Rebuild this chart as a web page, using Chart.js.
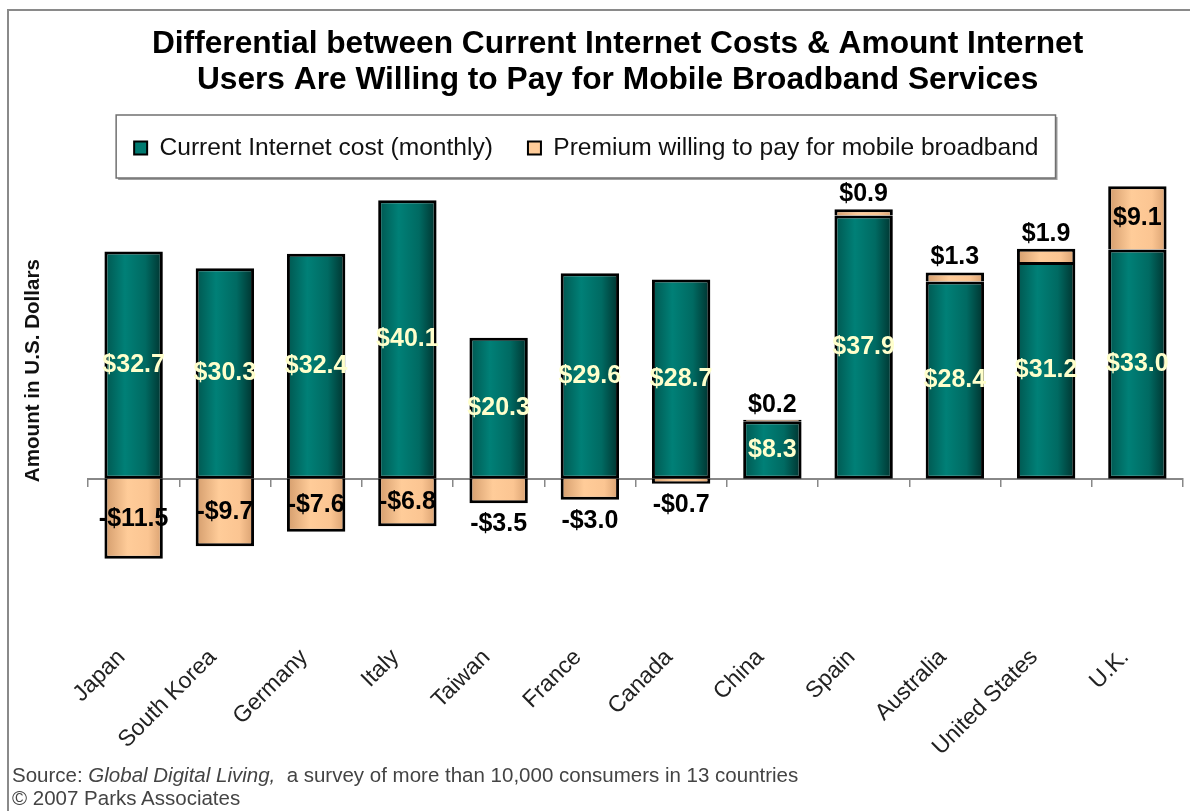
<!DOCTYPE html>
<html><head><meta charset="utf-8">
<script src="https://cdn.jsdelivr.net/npm/chart.js@4.4.1/dist/chart.umd.min.js"></script>
<style>
html,body{margin:0;padding:0;background:#fff;}
body{width:1190px;height:811px;position:relative;overflow:hidden;font-family:"Liberation Sans",Arial,sans-serif;}
#frame{position:absolute;left:7px;top:9px;width:1300px;height:900px;border-top:2px solid #8a8a8a;border-left:2px solid #8a8a8a;}
#c{position:absolute;left:0;top:0;}
#src{position:absolute;left:12px;top:763px;font-size:20.5px;line-height:23px;color:#444;white-space:pre;}
</style></head><body>
<div id="frame"></div>
<canvas id="c" width="1190" height="811"></canvas>
<div id="src">Source: <i>Global Digital Living,</i>  a survey of more than 10,000 consumers in 13 countries
© 2007 Parks Associates</div>
<script>
// ---- data ----
const categories = ['Japan','South Korea','Germany','Italy','Taiwan','France','Canada','China','Spain','Australia','United States','U.K.'];
const currentCost = [32.7,30.3,32.4,40.1,20.3,29.6,28.7,8.3,37.9,28.4,31.2,33.0];
const premium = [-11.5,-9.7,-7.6,-6.8,-3.5,-3.0,-0.7,0.2,0.9,1.3,1.9,9.1];
const seriesNames = ['Current Internet cost (monthly)','Premium willing to pay for mobile broadband'];
const titleLines = ['Differential between Current Internet Costs & Amount Internet','Users Are Willing to Pay for Mobile Broadband Services'];
const yAxisTitle = 'Amount in U.S. Dollars';
const yMin = -22.3, yMax = 44.4;

// ---- style ----
const FONT = '"Liberation Sans", Arial, sans-serif';
const BAR_PCT = 0.64;
const TEAL = '#007A70', TAN = '#FFCC99';
const TEAL_STOPS = [[0,'#00564F'],[0.35,'#008077'],[0.7,'#006A62'],[1,'#00312D']];
const TAN_STOPS = [[0,'#D39C6C'],[0.4,'#FFCC99'],[0.75,'#FBC592'],[1,'#D8A070']];
const LEGEND_FONT = 24.6;
const LEGEND_TRAIL = '    ';
Chart.defaults.font.family = FONT;

function barGradient(ctx, stops, fallback) {
  const chart = ctx.chart;
  if (ctx.type !== 'data' || !chart.chartArea || !chart.scales.x) return fallback;
  const xs = chart.scales.x;
  const cx = xs.getPixelForValue(ctx.dataIndex);
  const half = (xs.width / categories.length) * BAR_PCT / 2;
  const g = chart.ctx.createLinearGradient(cx - half, 0, cx + half, 0);
  stops.forEach(([o, c]) => g.addColorStop(o, c));
  return g;
}

const legendFrame = {
  id: 'legendFrame',
  beforeDraw(chart) {
    const lg = chart.legend;
    if (!lg || !lg.legendHitBoxes || !lg.legendHitBoxes.length) return;
    const hb = lg.legendHitBoxes;
    const c = chart.ctx;
    c.save();
    c.font = LEGEND_FONT + 'px ' + FONT;
    const trail = c.measureText(LEGEND_TRAIL).width;
    const first = hb[0], last = hb[hb.length - 1];
    const left = first.left - 18, right = last.left + last.width - trail + 17;
    const midY = first.top + first.height / 2;
    const top = midY - 33, bottom = midY + 30;
    c.fillStyle = '#a0a0a0';
    c.fillRect(left + 2, top + 2, right - left, bottom - top);
    c.fillStyle = '#fff';
    c.fillRect(left, top, right - left, bottom - top);
    c.strokeStyle = '#707070';
    c.lineWidth = 1.5;
    c.strokeRect(left, top, right - left, bottom - top);
    c.restore();
  }
};

const valueLabels = {
  id: 'valueLabels',
  afterDatasetsDraw(chart) {
    const c = chart.ctx;
    c.save();
    c.font = 'bold 25px ' + FONT;
    c.textAlign = 'center';
    c.textBaseline = 'middle';
    chart.data.datasets.forEach((ds, di) => {
      const meta = chart.getDatasetMeta(di);
      meta.data.forEach((el, i) => {
        const v = ds.data[i];
        const p = el.getProps(['x', 'y', 'base'], true);
        const txt = (v < 0 ? '-' : '') + '$' + Math.abs(v).toFixed(1);
        let ty, color = '#000';
        if (di === 0) { ty = (p.y + p.base) / 2; color = '#FFFFCC'; }
        else if (Math.abs(v) >= 5) { ty = (p.y + p.base) / 2; }
        else if (v > 0) { ty = p.y - 15; }
        else { ty = p.y + 21; }
        c.fillStyle = color;
        c.fillText(txt, p.x, ty);
      });
    });
    c.restore();
  }
};

new Chart(document.getElementById('c'), {
  type: 'bar',
  data: {
    labels: categories,
    datasets: [
      {
        label: seriesNames[0], data: currentCost, xAxisID: 'x',
        backgroundColor: (ctx) => barGradient(ctx, TEAL_STOPS, TEAL),
        borderColor: '#000', borderWidth: 3, borderSkipped: false,
        barPercentage: BAR_PCT, categoryPercentage: 1
      },
      {
        label: seriesNames[1], data: premium, xAxisID: 'x',
        backgroundColor: (ctx) => barGradient(ctx, TAN_STOPS, TAN),
        borderColor: '#000', borderWidth: 3, borderSkipped: 'start',
        barPercentage: BAR_PCT, categoryPercentage: 1
      }
    ]
  },
  options: {
    responsive: false,
    animation: false,
    layout: { padding: { left: 17, right: 7, top: 16, bottom: 40 } },
    plugins: {
      tooltip: { enabled: false },
      title: {
        display: true,
        text: titleLines.map(t => '    ' + t),
        color: '#000',
        font: { size: 31.7, weight: 'bold', lineHeight: 36 / 31.7 },
        padding: { top: 10, bottom: 2.7 }
      },
      legend: {
        display: true,
        labels: {
          color: '#111',
          font: { size: LEGEND_FONT },
          boxWidth: 13, boxHeight: 13, padding: 35,
          generateLabels(chart) {
            const items = Chart.defaults.plugins.legend.labels.generateLabels(chart);
            items.forEach((it, i) => {
              it.lineWidth = 2;
              it.fillStyle = i === 0 ? TEAL : TAN;
              if (i === items.length - 1) it.text = it.text + LEGEND_TRAIL;
            });
            return items;
          }
        }
      }
    },
    scales: {
      x: {
        stacked: true,
        offset: true,
        grid: { display: false, drawTicks: false },
        border: { display: false },
        ticks: { color: '#222', font: { size: 23 }, minRotation: 45, maxRotation: 45, padding: 10, labelOffset: -12, autoSkip: false }
      },
      x2: {
        type: 'category',
        position: { y: 0 },
        offset: true,
        grid: { display: true, offset: true, drawOnChartArea: false, drawTicks: true, tickLength: 7, color: '#888', lineWidth: 1.5 },
        border: { display: true, color: '#888', width: 2 },
        ticks: { display: false }
      },
      y: {
        stacked: true,
        min: yMin, max: yMax,
        grid: { display: false, drawTicks: false },
        border: { display: false },
        ticks: { display: false },
        title: {
          display: true,
          text: ' '.repeat(11) + yAxisTitle,
          color: '#111',
          font: { size: 20.6, weight: 'bold' }
        },
        afterFit(scale) { scale.width = 71; }
      }
    }
  },
  plugins: [legendFrame, valueLabels]
});
</script>
</body></html>
